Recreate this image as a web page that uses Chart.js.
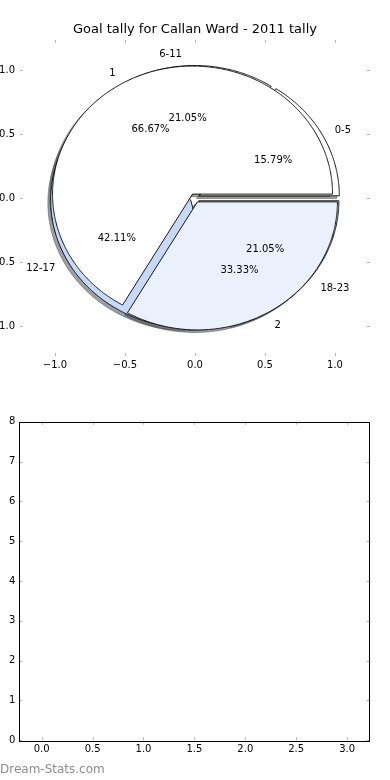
<!DOCTYPE html>
<html>
<head>
<meta charset="utf-8">
<script src="https://cdn.jsdelivr.net/npm/chart.js@4/dist/chart.umd.min.js"></script>
<style>
  html, body { margin: 0; padding: 0; background: #ffffff; }
  #wrap { position: relative; width: 390px; height: 780px; overflow: hidden; }
  canvas { display: block; }
</style>
</head>
<body>
<div id="wrap">
  <canvas id="pieChart" width="390" height="390"></canvas>
  <canvas id="barChart" width="390" height="390"></canvas>
</div>
<script>
// ---------------- DATA ----------------
const chartTitle = 'Goal tally for Callan Ward - 2011 tally';
// outer pie: goal-time brackets
const ageLabels = ['0-5', '6-11', '12-17', '18-23'];
const ageValues = [3, 4, 8, 4];
// inner pie: goals per match
const tallyLabels = ['1', '2'];
const tallyValues = [2, 1];
// axis tick labels
const pieXTicks = [-1.0, -0.5, 0.0, 0.5, 1.0];
const pieYTicks = [-1.0, -0.5, 0.0, 0.5, 1.0];
const barXTicks = [0.0, 0.5, 1.0, 1.5, 2.0, 2.5, 3.0];
const barYTicks = [0, 1, 2, 3, 4, 5, 6, 7, 8];
// lower panel (empty bars)
const barPositions = [0, 1, 2, 3];
const barValues = [0, 0, 0, 0];
const watermark = 'Dream-Stats.com';

// ---------------- STYLE ----------------
const ageColors = ['#ffffff', '#ffffff', '#c6d9f9', '#eaf0fc'];
const tallyColors = ['#ffffff', '#eaf0fc'];
const ageExplode = [0.035, 0.035, 0.035, 0.035];
const tallyExplode = [0.035, 0.035];
const FONT = 'DejaVu Sans';
Chart.defaults.font.family = FONT;
Chart.defaults.color = '#000000';

const fmt = v => (v < 0 ? '\u2212' : '') + Math.abs(v).toFixed(1);

function hexToRgb(h) {
  const n = parseInt(h.slice(1), 16);
  return [(n >> 16) & 255, (n >> 8) & 255, n & 255];
}
function shadowColor(h) {
  const [r, g, b] = hexToRgb(h);
  return `rgba(${Math.round(r * 0.3)},${Math.round(g * 0.3)},${Math.round(b * 0.3)},0.5)`;
}

// inward tick marks on all four sides
const innerTicks = {
  id: 'innerTicks',
  afterDraw(chart, args, opts) {
    const { ctx, chartArea: a, scales: { x, y } } = chart;
    const L = 3;
    ctx.save();
    ctx.strokeStyle = opts.color || '#b0b0b0';
    ctx.lineWidth = 1;
    ctx.beginPath();
    x.ticks.forEach(t => {
      const px = Math.round(x.getPixelForValue(t.value)) + 0.5;
      ctx.moveTo(px, a.bottom); ctx.lineTo(px, a.bottom - L);
      ctx.moveTo(px, a.top); ctx.lineTo(px, a.top + L);
    });
    y.ticks.forEach(t => {
      const py = Math.round(y.getPixelForValue(t.value)) + 0.5;
      ctx.moveTo(a.left, py); ctx.lineTo(a.left + L, py);
      ctx.moveTo(a.right, py); ctx.lineTo(a.right - L, py);
    });
    ctx.stroke();
    if (opts.frame) {
      ctx.strokeStyle = '#000000';
      ctx.strokeRect(Math.round(a.left) + 0.5, Math.round(a.top) + 0.5,
        Math.round(a.right - a.left), Math.round(a.bottom - a.top));
    }
    ctx.restore();
  }
};

// pies drawn through the x/y scales (elliptical like the reference)
const piePlugin = {
  id: 'pies',
  afterDatasetsDraw(chart) {
    const { ctx, scales: { x, y } } = chart;
    const P = (dx, dy) => [x.getPixelForValue(dx), y.getPixelForValue(dy)];
    const pies = [
      { values: ageValues, labels: ageLabels, colors: ageColors, explode: ageExplode },
      { values: tallyValues, labels: tallyLabels, colors: tallyColors, explode: tallyExplode }
    ];
    const wedges = [];
    pies.forEach(p => {
      const total = p.values.reduce((s, v) => s + v, 0);
      let acc = 0;
      p.values.forEach((v, i) => {
        const t1 = 360 * acc / total, t2 = 360 * (acc + v) / total;
        const tm = (t1 + t2) / 2 * Math.PI / 180;
        wedges.push({
          cx: p.explode[i] * Math.cos(tm), cy: p.explode[i] * Math.sin(tm),
          t1, t2, tm, color: p.colors[i], label: p.labels[i],
          pct: (100 * v / total).toFixed(2) + '%'
        });
        acc += v;
      });
    });
    const path = (w, ox, oy) => {
      ctx.beginPath();
      const [px, py] = P(w.cx + ox, w.cy + oy);
      ctx.moveTo(px, py);
      const n = Math.max(4, Math.ceil((w.t2 - w.t1) * 2));
      for (let k = 0; k <= n; k++) {
        const a = (w.t1 + (w.t2 - w.t1) * k / n) * Math.PI / 180;
        const [qx, qy] = P(w.cx + ox + Math.cos(a), w.cy + oy + Math.sin(a));
        ctx.lineTo(qx, qy);
      }
      ctx.closePath();
    };
    ctx.save();
    ctx.lineJoin = 'miter';
    // shadows first (below every wedge)
    wedges.forEach(w => {
      path(w, -0.02, -0.02);
      ctx.fillStyle = shadowColor(w.color);
      ctx.strokeStyle = shadowColor(w.color);
      ctx.lineWidth = 1;
      ctx.fill(); ctx.stroke();
    });
    wedges.forEach(w => {
      path(w, 0, 0);
      ctx.fillStyle = w.color;
      ctx.fill();
      ctx.strokeStyle = '#000000';
      ctx.lineWidth = 0.9;
      ctx.stroke();
    });
    // labels and percentages
    const dyText = 1.5;
    ctx.fillStyle = '#000000';
    ctx.font = `10px "${FONT}"`;
    ctx.textBaseline = 'middle';
    wedges.forEach(w => {
      const lx = w.cx + 1.1 * Math.cos(w.tm), ly = w.cy + 1.1 * Math.sin(w.tm);
      const [px, py] = P(lx, ly);
      ctx.textAlign = lx > 0 ? 'left' : 'right';
      ctx.fillText(w.label, px, py + dyText);
      const [qx, qy] = P(w.cx + 0.6 * Math.cos(w.tm), w.cy + 0.6 * Math.sin(w.tm));
      ctx.textAlign = 'center';
      ctx.fillText(w.pct, qx, qy + dyText);
    });
    ctx.restore();
  }
};

const setTicks = arr => scale => { scale.ticks = arr.map(v => ({ value: v })); };

new Chart(document.getElementById('pieChart'), {
  type: 'scatter',
  data: { datasets: [{ data: [], pointRadius: 0 }] },
  options: {
    responsive: false,
    devicePixelRatio: 1,
    animation: false,
    layout: { padding: { left: 0, right: 20, top: 0, bottom: 0 } },
    plugins: {
      legend: { display: false },
      tooltip: { enabled: false },
      title: {
        display: true, text: chartTitle, color: '#000000', fullSize: false,
        font: { size: 13, weight: 'normal', family: FONT },
        padding: { top: 22, bottom: 2.4 }
      },
      innerTicks: { color: '#b4b4b4', frame: false }
    },
    scales: {
      x: {
        type: 'linear', min: -1.25, max: 1.25,
        afterBuildTicks: setTicks(pieXTicks),
        afterFit: s => { s.height = 34; },
        grid: { display: false, drawTicks: false },
        border: { display: false },
        ticks: { font: { size: 10 }, color: '#000000', padding: 3, maxRotation: 0, callback: v => fmt(v) }
      },
      y: {
        type: 'linear', min: -1.234, max: 1.234,
        afterBuildTicks: setTicks(pieYTicks),
        afterFit: s => { s.width = 20; },
        grid: { display: false, drawTicks: false },
        border: { display: false },
        ticks: { font: { size: 10 }, color: '#000000', padding: 5, callback: v => fmt(v) }
      }
    }
  },
  plugins: [piePlugin, innerTicks]
});

const watermarkPlugin = {
  id: 'watermark',
  afterDraw(chart) {
    const { ctx } = chart;
    ctx.save();
    ctx.font = `12px "${FONT}"`;
    ctx.fillStyle = '#8c8c8c';
    ctx.textAlign = 'left';
    ctx.textBaseline = 'middle';
    ctx.fillText(watermark, 0, 380);
    ctx.restore();
  }
};

new Chart(document.getElementById('barChart'), {
  type: 'bar',
  data: {
    datasets: [{
      data: barPositions.map((p, i) => ({ x: p, y: barValues[i] })),
      backgroundColor: '#c6d9f9', borderWidth: 0
    }]
  },
  options: {
    responsive: false,
    devicePixelRatio: 1,
    animation: false,
    layout: { padding: { left: 0, right: 20.5, top: 31.7, bottom: 0 } },
    plugins: {
      legend: { display: false },
      tooltip: { enabled: false },
      innerTicks: { color: '#b4b4b4', frame: true }
    },
    scales: {
      x: {
        type: 'linear', min: -0.22, max: 3.22, offset: false,
        afterBuildTicks: setTicks(barXTicks),
        afterFit: s => { s.height = 39.7; },
        grid: { display: false, drawTicks: false, offset: false },
        border: { display: false },
        ticks: { font: { size: 10 }, color: '#000000', padding: 3, maxRotation: 0, callback: v => fmt(v) }
      },
      y: {
        type: 'linear', min: 0, max: 8,
        afterBuildTicks: setTicks(barYTicks),
        afterFit: s => { s.width = 19.3; },
        grid: { display: false, drawTicks: false },
        border: { display: false },
        ticks: { font: { size: 10 }, color: '#000000', padding: 4, callback: v => String(v) }
      }
    }
  },
  plugins: [innerTicks, watermarkPlugin]
});
</script>
</body>
</html>
